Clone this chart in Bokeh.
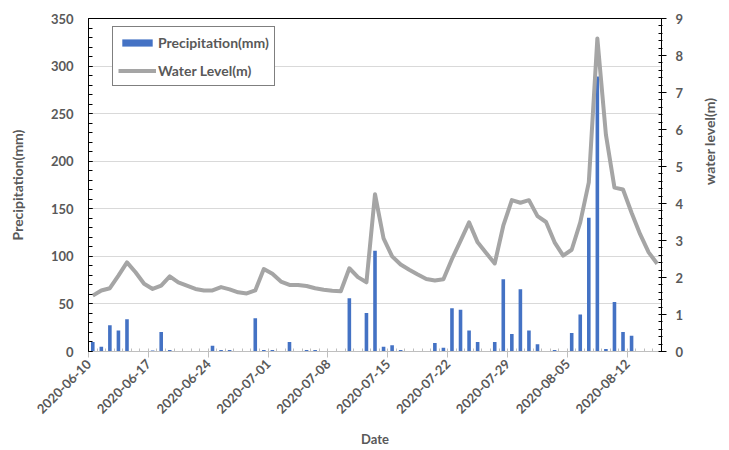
import math
import pandas as pd
from bokeh.plotting import figure
from bokeh.models import (Range1d, LinearAxis, FixedTicker, DatetimeTickFormatter,
                          ColumnDataSource, Legend, LegendItem)
from bokeh.embed import file_html
from bokeh.resources import INLINE

# ---------------- data ----------------
start_date = "2020-06-10"
end_date = "2020-08-15"
dates = pd.date_range(start_date, end_date, freq="D")

precipitation_mm = [
    10, 5, 27.5, 22, 34, 0, 0, 1, 20.5, 1.5,
    0, 0, 0, 0, 6, 1.5, 1.5, 0, 0, 35,
    1.5, 1.5, 0, 10, 0, 1.5, 1.5, 0, 0, 0,
    56, 0, 40.5, 106, 5, 6.5, 1.5, 0, 0, 0,
    9, 4, 45.5, 44, 22, 10, 0, 10, 76, 18.5,
    65.5, 22, 7.5, 0, 1.5, 0, 19.5, 39, 140.5, 289,
    2.5, 52, 20.5, 16.5, 0, 0, 0,
]

water_level_m = [
    1.51, 1.65, 1.71, 2.05, 2.41, 2.14, 1.83, 1.69, 1.78, 2.03,
    1.87, 1.78, 1.69, 1.65, 1.65, 1.74, 1.68, 1.60, 1.57, 1.65,
    2.23, 2.10, 1.89, 1.80, 1.80, 1.77, 1.71, 1.67, 1.64, 1.63,
    2.25, 2.01, 1.87, 4.25, 3.06, 2.57, 2.35, 2.21, 2.08, 1.96,
    1.92, 1.95, 2.50, 2.99, 3.49, 2.95, 2.66, 2.38, 3.40, 4.09,
    4.02, 4.09, 3.66, 3.50, 2.95, 2.59, 2.75, 3.49, 4.57, 8.46,
    5.86, 4.43, 4.38, 3.75, 3.17, 2.68, 2.37,
]

left_ticks = [0, 50, 100, 150, 200, 250, 300, 350]
right_ticks = [0, 1, 2, 3, 4, 5, 6, 7, 8, 9]

# ---------------- styling ----------------
FONT = "Lato"
TXT = "#595959"
BLUE = "#4472C4"
GRAY = "#A5A5A5"
DAY_MS = 86400000

mid = dates + pd.Timedelta(hours=12)
src = ColumnDataSource(dict(x=mid, p=precipitation_mm, w=water_level_m))

x_start = dates[0]
x_end = dates[-1] + pd.Timedelta(days=1)

p = figure(width=729, height=450, output_backend="svg", toolbar_location=None,
           x_axis_type="datetime",
           x_range=Range1d(x_start, x_end), y_range=Range1d(0, 350),
           min_border_left=88, min_border_right=63, min_border_top=18,
           min_border_bottom=97)
p.outline_line_color = None
p.background_fill_color = "white"
p.border_fill_color = "white"

p.extra_y_ranges = {"wl": Range1d(0, 9)}

bars = p.vbar(x="x", top="p", width=0.42 * DAY_MS, source=src,
              fill_color=BLUE, line_color=None)
line = p.line(x="x", y="w", source=src, y_range_name="wl",
              line_color=GRAY, line_width=4, line_join="round")

# grid
p.xgrid.grid_line_color = None
p.ygrid.grid_line_color = "#D9D9D9"
p.ygrid.grid_line_width = 1

# x axis
major_dates = dates[::7]
xax = p.xaxis[0]
xax.ticker = FixedTicker(ticks=[d.value // 10**6 for d in major_dates],
                         minor_ticks=[d.value // 10**6 for d in pd.date_range(x_start, x_end, freq="D")])
fmt = "%Y-%m-%d"
xax.formatter = DatetimeTickFormatter(days=fmt, months=fmt, years=fmt, hours=fmt,
                                      hourmin=fmt, minutes=fmt, seconds=fmt,
                                      milliseconds=fmt, microseconds=fmt,
                                      minsec=fmt)
xax.major_label_orientation = math.pi / 4
xax.axis_line_color = "#BFBFBF"
xax.major_tick_line_color = "#BFBFBF"
xax.minor_tick_line_color = "#BFBFBF"
xax.major_tick_in = 0
xax.major_tick_out = 6
xax.minor_tick_in = 3
xax.minor_tick_out = 0
xax.major_label_standoff = 4
xax.major_label_text_font = FONT
xax.major_label_text_font_style = "bold"
xax.major_label_text_font_size = "13px"
xax.major_label_text_color = TXT
xax.axis_label = "Date"
xax.axis_label_text_font = FONT
xax.axis_label_text_font_style = "bold"
xax.axis_label_text_font_size = "13px"
xax.axis_label_text_color = TXT
xax.axis_label_standoff = 10

# left axis
yax = p.yaxis[0]
yax.ticker = FixedTicker(ticks=left_ticks, minor_ticks=list(range(0, 351, 10)))
yax.axis_line_color = "black"
yax.major_tick_line_color = "black"
yax.minor_tick_line_color = "black"
yax.major_tick_in = 4
yax.major_tick_out = 0
yax.minor_tick_in = 4
yax.minor_tick_out = 0
yax.major_label_standoff = 15
yax.major_label_text_font = FONT
yax.major_label_text_font_style = "bold"
yax.major_label_text_font_size = "13px"
yax.major_label_text_color = TXT
yax.axis_label = "Precipitation(mm)"
yax.axis_label_text_font = FONT
yax.axis_label_text_font_style = "bold"
yax.axis_label_text_font_size = "14px"
yax.axis_label_text_color = TXT
yax.axis_label_standoff = 22

# right axis
rax = LinearAxis(y_range_name="wl",
                 ticker=FixedTicker(ticks=right_ticks,
                                    minor_ticks=[i / 5 for i in range(0, 46)]),
                 axis_label="water level(m)")
rax.axis_line_color = "black"
rax.major_tick_line_color = "black"
rax.minor_tick_line_color = "black"
rax.major_tick_in = 2
rax.major_tick_out = 5
rax.minor_tick_in = 3
rax.minor_tick_out = 1
rax.major_label_standoff = 9
rax.major_label_text_font = FONT
rax.major_label_text_font_style = "bold"
rax.major_label_text_font_size = "13px"
rax.major_label_text_color = TXT
rax.axis_label_text_font = FONT
rax.axis_label_text_font_style = "bold"
rax.axis_label_text_font_size = "14px"
rax.axis_label_text_color = TXT
rax.axis_label_standoff = 23
rax.axis_label_orientation = math.pi / 2
p.add_layout(rax, "right")

# top border line
tax = LinearAxis(ticker=FixedTicker(ticks=[]), axis_line_color="black",
                 major_tick_line_color=None, minor_tick_line_color=None,
                 major_label_standoff=0, major_tick_out=0, minor_tick_out=0,
                 major_tick_in=0, minor_tick_in=0)
p.add_layout(tax, "above")

# legend
legend = Legend(items=[LegendItem(label="Precipitation(mm)", renderers=[bars]),
                       LegendItem(label="Water Level(m)", renderers=[line])],
                location=(24, 265))
legend.label_text_font = FONT
legend.label_text_font_style = "bold"
legend.label_text_font_size = "14px"
legend.label_text_color = TXT
legend.border_line_color = "black"
legend.border_line_width = 1
legend.background_fill_alpha = 1
legend.padding = 5
legend.spacing = 8
legend.margin = 0
legend.glyph_width = 38
legend.glyph_height = 9
legend.label_height = 20
legend.label_standoff = 2
p.add_layout(legend, "center")

open("out.html", "w").write(file_html(p, INLINE))
